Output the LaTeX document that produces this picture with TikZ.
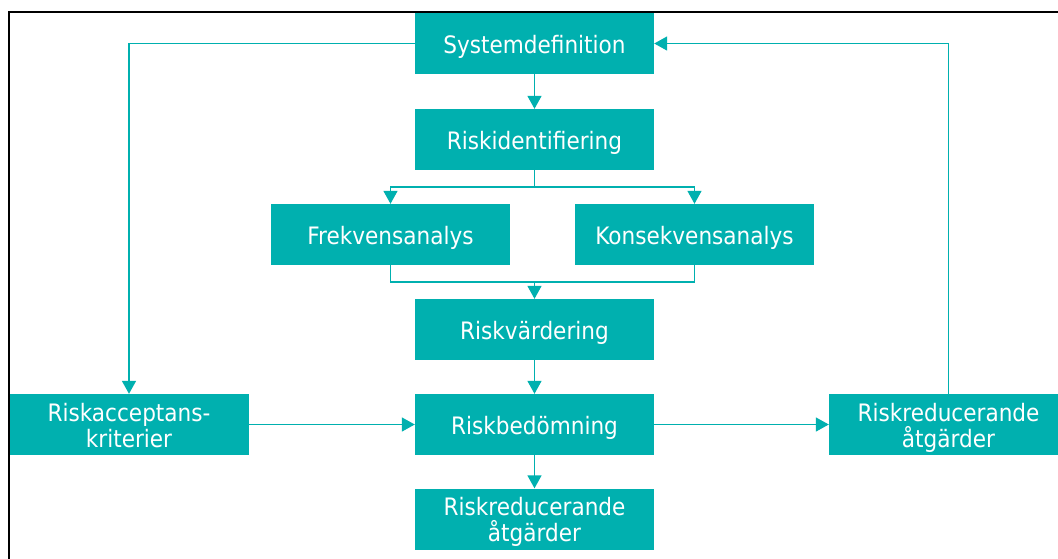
\documentclass[tikz,border=0pt]{standalone}
\usepackage{fontspec}
\setmainfont{DejaVu Sans}
\newfontfamily\boxfont[FakeStretch=0.9]{DejaVu Sans}
\usetikzlibrary{arrows.meta}
\definecolor{teal1}{HTML}{00B0AF}
\tikzset{
  box/.style={rectangle, fill=teal1, text=white, inner sep=0pt, minimum width=239pt, minimum height=61pt, align=center, font=\boxfont\fontsize{24}{26}\selectfont, text height=19pt, text depth=0pt},
  box2/.style={box, text height=45.4pt, text depth=0pt},
  conn/.style={draw=teal1, line width=1.5pt, -{Triangle[width=14pt,length=13pt]}},
  plain/.style={draw=teal1, line width=1.5pt}
}
\begin{document}
\begin{tikzpicture}[x=1pt,y=-1pt]
\useasboundingbox (0,0) rectangle (1058,558);
\clip (0,0) rectangle (1058,558);
\fill[white] (0,0) rectangle (1058,558);
\draw[black, line width=2pt] (9,570) -- (9,11.5) -- (1070,11.5);
\node[box] (sys) at (534.5,43.5) {Systemdefinition};
\node[box] (rid) at (534.5,139.5) {Riskidentifiering};
\node[box] (frek) at (390.5,234.5) {Frekvensanalys};
\node[box] (kons) at (694.5,234.5) {Konsekvensanalys};
\node[box] (rv) at (534.5,329.5) {Riskvärdering};
\node[box] (rb) at (534.5,424.5) {Riskbedömning};
\node[box2] (rr1) at (534.5,519) {Riskreducerande\\åtgärder};
\node[box2] (acc) at (129,424.5) {Riskacceptans-\\kriterier};
\node[box2] (rr2) at (948.5,424.5) {Riskreducerande\\åtgärder};
\coordinate (split) at (534.5,187);
\coordinate (merge) at (534.5,282);
\draw[conn] (sys.west) -| (acc.north);
\draw[conn] (rr2.north) |- (sys.east);
\draw[conn] (sys) -- (rid);
\draw[plain] (rid.south) -- (split);
\draw[conn] (split) -| (frek.north);
\draw[conn] (split) -| (kons.north);
\draw[plain] (frek.south) |- (merge) -| (kons.south);
\draw[conn] (merge) -- (rv.north);
\draw[conn] (rv) -- (rb);
\draw[conn] (acc) -- (rb);
\draw[conn] (rb) -- (rr2);
\draw[conn] (rb) -- (rr1);
\end{tikzpicture}
\end{document}
